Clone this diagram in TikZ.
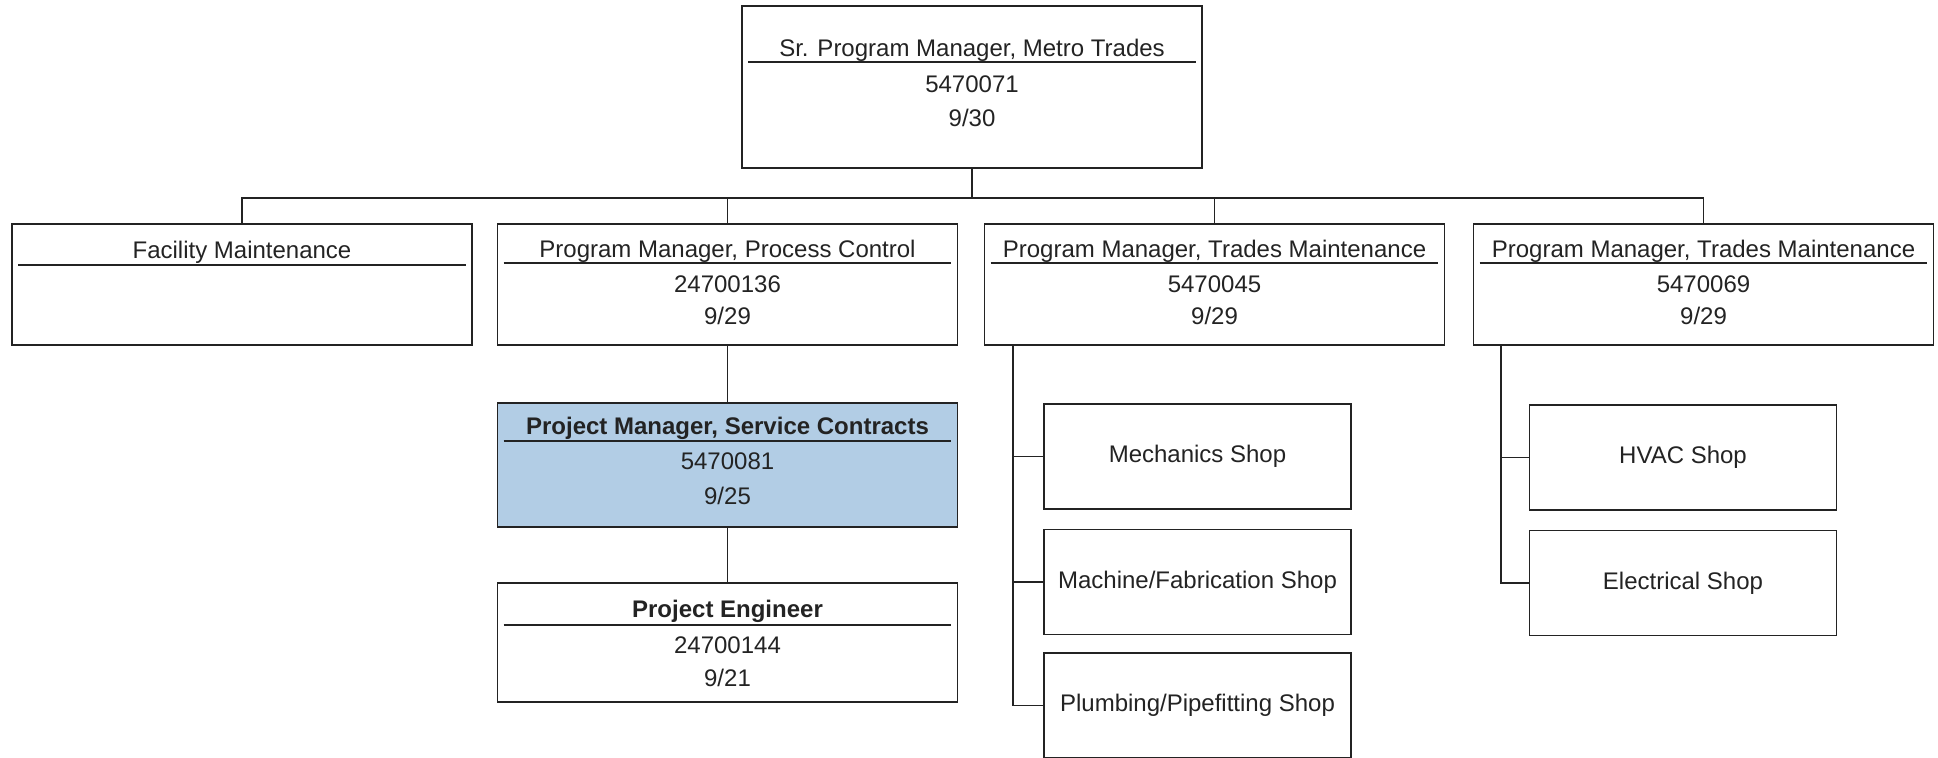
\documentclass[tikz,border=0pt]{standalone}
\usepackage{fontspec}
\setmainfont{Liberation Sans}
\usetikzlibrary{calc}
\definecolor{selblue}{RGB}{178,205,229}
\definecolor{inkgray}{RGB}{35,35,35}
\tikzset{
  posbox/.style={draw=inkgray,line width=0.9pt,minimum width=230pt,inner sep=0pt},
  shopbox/.style={draw=inkgray,line width=0.9pt,minimum width=153.5pt,
    minimum height=52.5pt,inner sep=0pt,text=inkgray,font=\fontsize{12}{14}\selectfont},
  lbl/.style={inner sep=0pt,anchor=base,text=inkgray,font=\fontsize{12}{14}\selectfont},
  link/.style={draw=inkgray,line width=0.9pt},
}
\begin{document}
\begin{tikzpicture}[x=0.5pt,y=-0.5pt]
  \useasboundingbox (0,0) rectangle (1938,758);
  % boxes
  \node[posbox,minimum height=81pt] (sr) at (972,87) {};
  \foreach \nm/\cx in {fm/242, pc/727.5, tmA/1214.5, tmB/1703.5}
    \node[posbox,minimum height=60.5pt] (\nm) at (\cx,284.5) {};
  \node[posbox,minimum height=62pt,fill=selblue] (psc) at (727.5,465) {};
  \node[posbox,minimum height=59.5pt] (pe) at (727.5,642.5) {};

  % title, rule, number, date
  \foreach \nm/\ofT/\ofS/\ofI/\ofD/\ttl/\num/\dat in {
      sr/51/57/87/121/{Sr. Program Manager, Metro Trades}/5470071/{9/30},
      fm/35/42/69/101/{Facility Maintenance}/{}/{},
      pc/34/40/69/101/{Program Manager, Process Control}/24700136/{9/29},
      tmA/34/40/69/101/{Program Manager, Trades Maintenance}/5470045/{9/29},
      tmB/34/40/69/101/{Program Manager, Trades Maintenance}/5470069/{9/29},
      psc/32/39/67/102/{\bfseries Project Manager, Service Contracts}/5470081/{9/25},
      pe/35/43/71/104/{\bfseries Project Engineer}/24700144/{9/21}}
  {
    \node[lbl] (\nm-t) at ($(\nm.north)+(0,\ofT)$) {\ttl};
    \draw[link] ($(\nm.north west)+(7,\ofS)$) -- ($(\nm.north east)+(-7,\ofS)$);
    \node[lbl] (\nm-n) at ($(\nm.north)+(0,\ofI)$) {\num};
    \node[lbl] (\nm-d) at ($(\nm.north)+(0,\ofD)$) {\dat};
  }

  % shops
  \foreach \nm/\cx/\cy/\ttl in {mech/1197.5/456.5/{Mechanics Shop},
      mach/1197.5/582/{Machine/Fabrication Shop},
      plumb/1197.5/705.5/{Plumbing/Pipefitting Shop},
      hvac/1683/457.5/{HVAC Shop},
      elec/1683/583/{Electrical Shop}}
    \node[shopbox] (\nm) at (\cx,\cy) {\ttl};

  % connectors
  \coordinate (bus) at ($(sr.south)+(0,29)$);
  \draw[link] (sr.south) -- (bus);
  \draw[link] (fm.north) |- (bus) -| (tmB.north);
  \draw[link] (pc.north) -- (pc.north |- bus);
  \draw[link] (tmA.north) -- (tmA.north |- bus);
  \draw[link] (pc.south) -- (psc.north);
  \draw[link] (psc.south) -- (pe.north);

  \coordinate (spA) at ($(tmA.south west)+(29,0)$);
  \draw[link] (spA) |- (plumb.west);
  \foreach \s in {mech,mach}
    \draw[link] (spA |- \s.west) -- (\s.west);
  \coordinate (spB) at ($(tmB.south west)+(28,0)$);
  \draw[link] (spB) |- (elec.west);
  \draw[link] (spB |- hvac.west) -- (hvac.west);
\end{tikzpicture}
\end{document}
